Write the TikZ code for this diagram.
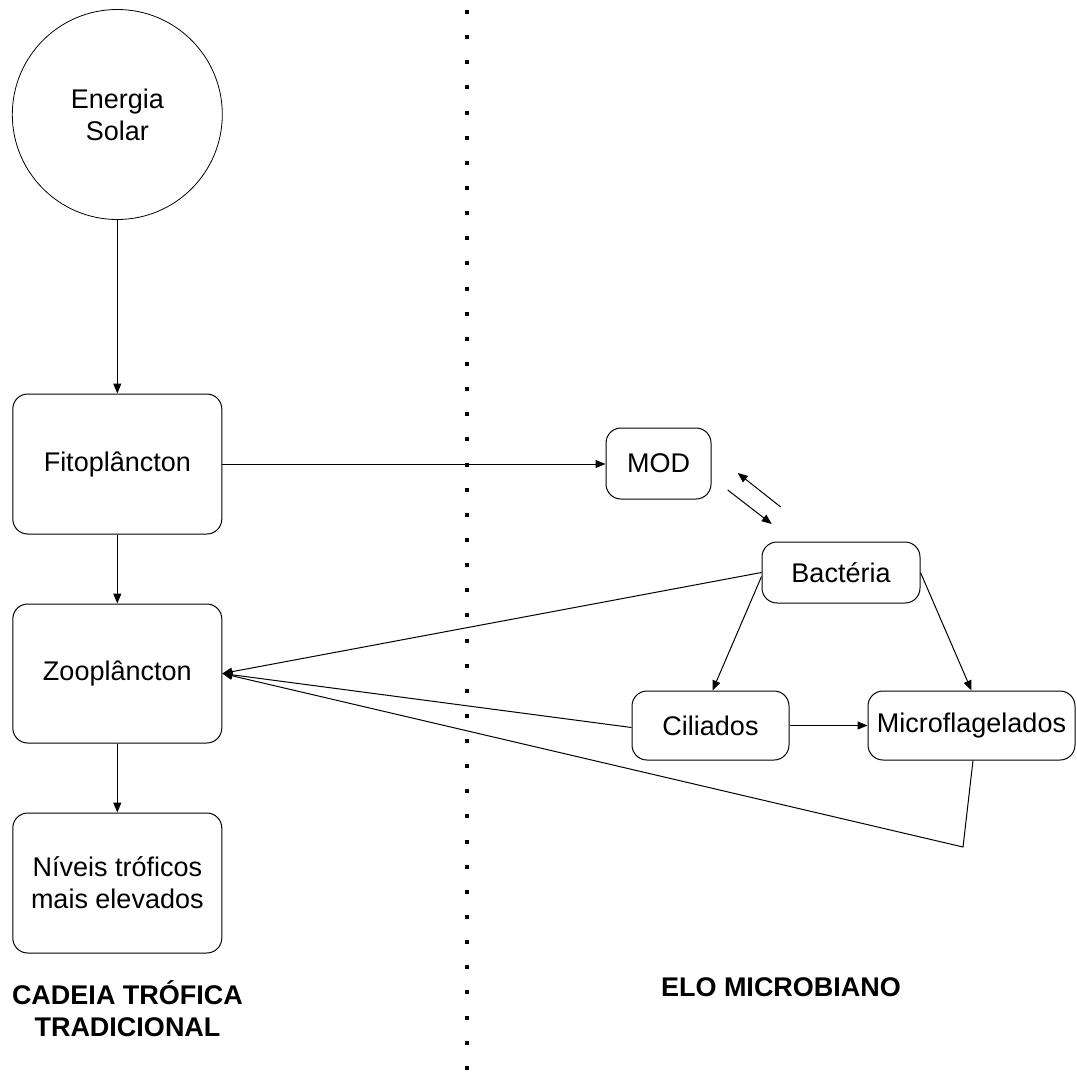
\documentclass[tikz,border=0pt]{standalone}
\usepackage{fontspec}
\setmainfont{Liberation Sans}
\usetikzlibrary{arrows.meta}
\newcommand{\lbl}{\fontsize{27}{32}\selectfont}
\begin{document}
\begin{tikzpicture}[x=1pt,y=-1pt,
  box/.style={draw, line width=1pt, rounded corners=15pt, align=center, font=\lbl, inner sep=0pt},
  arr/.style={-{Triangle[length=10pt,width=8pt]}, line width=1pt},
  head/.style={font=\bfseries\lbl, align=center}]
\useasboundingbox (0,0) rectangle (1076,1091);
% dotted separator
\foreach \i in {0,...,42} \fill (465,{10+25.14*\i}) rectangle ++(4,4);
% nodes
\node[circle, draw, line width=0.8pt, minimum size=210pt, inner sep=0pt, align=center, font=\lbl] (sun) at (117.3,114.5) {Energia\\Solar};
\node[box, minimum width=209pt, minimum height=140pt] (fito) at (117.3,464) {Fitoplâncton};
\node[box, minimum width=209pt, minimum height=139pt] (zoo) at (117.3,673.5) {Zooplâncton};
\node[box, minimum width=209pt, minimum height=140pt] (niv) at (117.3,883) {Níveis tróficos\\mais elevados};
\node[box, minimum width=105pt, minimum height=71pt] (mod) at (658.5,463.5) {MOD};
\node[box, minimum width=158pt, minimum height=61pt] (bac) at (841,572.5) {Bactéria};
\node[box, minimum width=157pt, minimum height=69pt] (cil) at (710.5,725.5) {Ciliados};
\node[box, minimum width=207pt, minimum height=69pt] (mic) at (971.5,725.5) {Microflagelados};
\node[head] (hl) at (127.5,1009) {CADEIA TRÓFICA\\TRADICIONAL};
\node[head] (hr) at (781,987) {ELO MICROBIANO};
% free coordinates
\coordinate (a1s) at (727.7,490);
\coordinate (a1e) at (771.7,524);
\coordinate (a2s) at (780.7,507);
\coordinate (a2e) at (737.7,473);
\coordinate (k) at (963,847);
% connectors
\draw[arr] (sun) -- (fito);
\draw[arr] (fito.east) -- (fito.east -| mod.west);
\draw[arr] (fito) -- (zoo);
\draw[arr] (zoo) -- (niv);
\draw[arr] (a1s) -- (a1e);
\draw[arr] (a2s) -- (a2e);
\draw[arr] (bac.west) -- (zoo.east);
\draw[arr] ([yshift=-4pt]bac.west) -- ([xshift=2pt]cil.north);
\draw[arr] (bac.east) -- (mic.north);
\draw[arr] (cil) -- (mic);
\draw[arr] ([yshift=-2pt]cil.west) -- (zoo.east);
\draw[arr] ([xshift=1.5pt]mic.south) -- (k) -- (zoo.east);
\end{tikzpicture}
\end{document}
